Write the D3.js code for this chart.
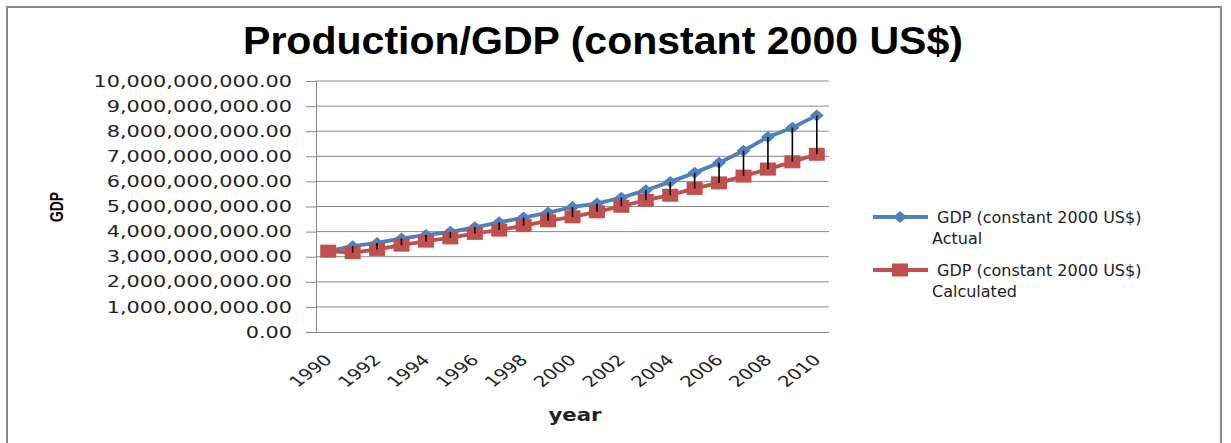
<!DOCTYPE html>
<html><head><meta charset="utf-8">
<script src="https://cdn.jsdelivr.net/npm/d3@7"></script>
<style>body{margin:0;background:#fff}svg{display:block}</style>
</head><body><svg id="c" width="1231" height="443"></svg>
<script>
const years = [1990,1991,1992,1993,1994,1995,1996,1997,1998,1999,2000,2001,2002,2003,2004,2005,2006,2007,2008,2009,2010];
const actual = [3220000000,3420000000,3550000000,3730000000,3860000000,3990000000,4170000000,4370000000,4560000000,4760000000,4980000000,5120000000,5350000000,5650000000,5980000000,6340000000,6740000000,7220000000,7770000000,8140000000,8630000000];
const calculated = [3220000000,3160000000,3290000000,3460000000,3620000000,3750000000,3930000000,4060000000,4240000000,4430000000,4590000000,4790000000,5010000000,5250000000,5450000000,5720000000,5940000000,6210000000,6490000000,6780000000,7080000000];
const yTicks = [0,1e9,2e9,3e9,4e9,5e9,6e9,7e9,8e9,9e9,1e10];
const xTickLabels = [1990,1992,1994,1996,1998,2000,2002,2004,2006,2008,2010];
const seriesNames = ["GDP (constant 2000 US$)", "GDP (constant 2000 US$)"];
const seriesSub = ["Actual", "Calculated"];
const title = "Production/GDP (constant 2000 US$)";

const svg = d3.select("#c");
const L = 316, R = 829, T = 81, B = 332;
const blue = "#4F81BD", red = "#C0504D", grid = "#8a8a8a";
function widen(sel, k) {
  sel.each(function(){
    const w = this.getComputedTextLength();
    d3.select(this).attr("textLength", w * k).attr("lengthAdjust","spacingAndGlyphs");
  });
}

// frame
svg.append("rect").attr("x",7).attr("y",7).attr("width",1214).attr("height",450)
  .attr("fill","none").attr("stroke","#8c8c8c").attr("stroke-width",2);

const x = d3.scaleBand().domain(years).range([L,R]).padding(0);
const y = d3.scaleLinear().domain([0,1e10]).range([B,T]);
const cx = d => x(d) + x.bandwidth()/2;

// gridlines
svg.append("g").selectAll("line").data(yTicks.filter(v=>v>0)).join("line")
  .attr("x1",L).attr("x2",R).attr("y1",d=>y(d)).attr("y2",d=>y(d))
  .attr("stroke",grid).attr("stroke-width",1);

// y axis
const ya = svg.append("g").attr("transform",`translate(${L},0)`)
  .call(d3.axisLeft(y).tickValues(yTicks).tickFormat(d3.format(",.2f")).tickSize(10).tickPadding(14));
ya.select(".domain").attr("stroke",grid);
ya.selectAll(".tick line").attr("stroke",grid);
ya.selectAll("text").attr("font-family","DejaVu Sans").attr("font-size",16).attr("fill","#222");
widen(ya.selectAll("text"), 1.3);

// x axis
const xa = svg.append("g").attr("transform",`translate(0,${B})`)
  .call(d3.axisBottom(x).tickValues(xTickLabels).tickSize(0).tickPadding(0));
xa.select(".domain").attr("stroke",grid).attr("d",`M${L},0.5H${R}`);
xa.selectAll("text").attr("font-family","DejaVu Sans").attr("font-size",15).attr("fill","#222")
  .attr("text-anchor","end").attr("dy",null).attr("y",0)
  .attr("transform","translate(5,29) scale(1.32,1) rotate(-45)");

// lines
const line = d3.line().x((d,i)=>cx(years[i])).y(d=>y(d));
svg.append("path").datum(actual).attr("d",line).attr("fill","none").attr("stroke",blue).attr("stroke-width",3.8);
const diamond = (w,h) => `M0,${-h/2}L${w/2},0L0,${h/2}L${-w/2},0Z`;
svg.append("g").selectAll("path").data(actual).join("path")
  .attr("d",diamond(14,12)).attr("transform",(d,i)=>`translate(${cx(years[i])},${y(d)})`).attr("fill",blue);

svg.append("path").datum(calculated).attr("d",line).attr("fill","none").attr("stroke",red).attr("stroke-width",3.8);
svg.append("g").selectAll("rect").data(calculated).join("rect")
  .attr("x",(d,i)=>cx(years[i])-8).attr("y",d=>y(d)-6.5).attr("width",16).attr("height",13).attr("fill",red);

// high-low lines
svg.append("g").selectAll("line").data(years).join("line")
  .attr("x1",d=>cx(d)).attr("x2",d=>cx(d))
  .attr("y1",(d,i)=>y(actual[i])).attr("y2",(d,i)=>y(calculated[i]))
  .attr("stroke","#000").attr("stroke-width",1.6);

// title
svg.append("text").attr("x",603).attr("y",54).attr("text-anchor","middle")
  .attr("font-family","Liberation Sans").attr("font-weight","bold").attr("font-size",39)
  .attr("fill","#000").attr("textLength",720).attr("lengthAdjust","spacingAndGlyphs").text(title);

// axis titles
svg.append("text").attr("transform","translate(63,207) rotate(-90)").attr("text-anchor","middle")
  .attr("font-family","Liberation Sans").attr("font-weight","bold").attr("font-size",18)
  .attr("textLength",30).attr("lengthAdjust","spacingAndGlyphs").text("GDP");
const yl = svg.append("text").attr("x",575).attr("y",421).attr("text-anchor","middle")
  .attr("font-family","DejaVu Sans").attr("font-weight","bold").attr("font-size",17).attr("fill","#222").text("year");
widen(yl, 1.25);

// legend
const legY = [217, 270];
const colors = [blue, red];
seriesNames.forEach((nm,i)=>{
  const g = svg.append("g");
  g.append("line").attr("x1",873).attr("x2",928).attr("y1",legY[i]).attr("y2",legY[i]).attr("stroke",colors[i]).attr("stroke-width",3.8);
  if(i===0) g.append("path").attr("d",diamond(14,12)).attr("transform",`translate(900,${legY[i]})`).attr("fill",blue);
  else g.append("rect").attr("x",892).attr("y",legY[i]-6.5).attr("width",16).attr("height",13).attr("fill",red);
  g.append("text").attr("x",937).attr("y",legY[i]+6).attr("font-family","DejaVu Sans").attr("font-size",16).attr("fill","#222").text(nm);
  g.append("text").attr("x",932).attr("y",legY[i]+27).attr("font-family","DejaVu Sans").attr("font-size",16).attr("fill","#222").text(seriesSub[i]);
});
</script></body></html>
